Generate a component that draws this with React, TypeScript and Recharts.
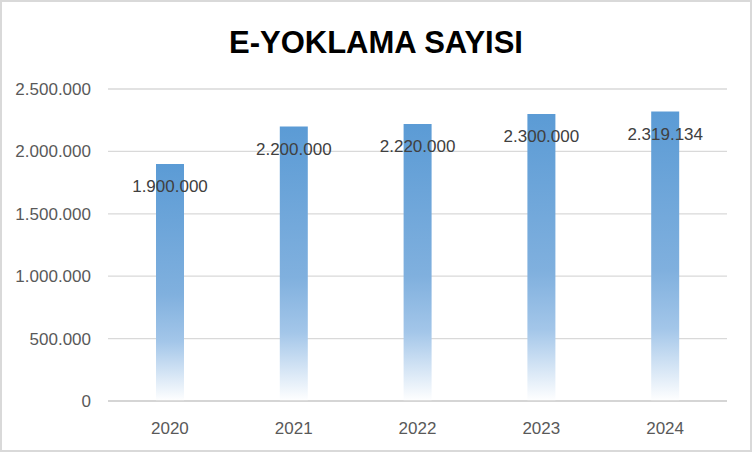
import React from "react";
import { BarChart, Bar, XAxis, YAxis, CartesianGrid, LabelList } from "recharts";

const years = ["2020", "2021", "2022", "2023", "2024"];
const counts = [1900000, 2200000, 2220000, 2300000, 2319134];
const yTicks = [0, 500000, 1000000, 1500000, 2000000, 2500000];
const title = "E-YOKLAMA SAYISI";

const data = years.map((y, i) => ({ year: y, value: counts[i] }));

const fmt = (v: number) => String(Math.round(v)).replace(/\B(?=(\d{3})+(?!\d))/g, ".");

const FONT = "'Liberation Sans', Arial, sans-serif";

export default function App() {
  return (
    <div
      style={{
        position: "absolute",
        left: 0,
        top: 0,
        width: 752,
        height: 452,
        background: "#fff",
        fontFamily: FONT,
      }}
    >
      <div
        style={{
          position: "absolute",
          left: 0,
          top: 0,
          width: 752,
          height: 452,
          boxSizing: "border-box",
          border: "2px solid #d9d9d9",
          pointerEvents: "none",
          zIndex: 2,
        }}
      />
      <div
        style={{
          position: "absolute",
          left: 0,
          top: 27,
          width: 752,
          textAlign: "center",
          fontSize: 31,
          lineHeight: "31px",
          fontWeight: "bold",
          color: "#000",
          fontFamily: FONT,
        }}
      >
        {title}
      </div>
      <BarChart
        width={752}
        height={452}
        data={data}
        margin={{ top: 89, right: 25, bottom: 21, left: 0 }}
        barCategoryGap="20%"
      >
        <defs>
          <linearGradient id="barGrad" x1="0" y1="0" x2="0" y2="1">
            <stop offset="0" stopColor="#5b9bd5" />
            <stop offset="0.55" stopColor="#80b0de" />
            <stop offset="0.75" stopColor="#a3c6e9" />
            <stop offset="1" stopColor="#ffffff" />
          </linearGradient>
        </defs>
        <CartesianGrid vertical={false} stroke="#d9d9d9" strokeWidth={1.3} />
        <XAxis
          dataKey="year"
          tickLine={false}
          axisLine={{ stroke: "#d0d0d0", strokeWidth: 1.6 }}
          tick={{ fill: "#595959", fontSize: 17, fontFamily: FONT }}
          tickMargin={15}
        />
        <YAxis
          width={108}
          domain={[0, 2500000]}
          ticks={yTicks}
          tickFormatter={fmt}
          tickLine={false}
          axisLine={false}
          tick={{ fill: "#595959", fontSize: 17, fontFamily: FONT }}
          tickMargin={11}
          interval={0}
        />
        <Bar dataKey="value" fill="url(#barGrad)" barSize={28} isAnimationActive={false}>
          <LabelList
            dataKey="value"
            position="insideTop"
            offset={16}
            formatter={(v: any) => fmt(Number(v))}
            style={{ fill: "#404040", fontSize: 17, fontFamily: FONT }}
          />
        </Bar>
      </BarChart>
    </div>
  );
}
